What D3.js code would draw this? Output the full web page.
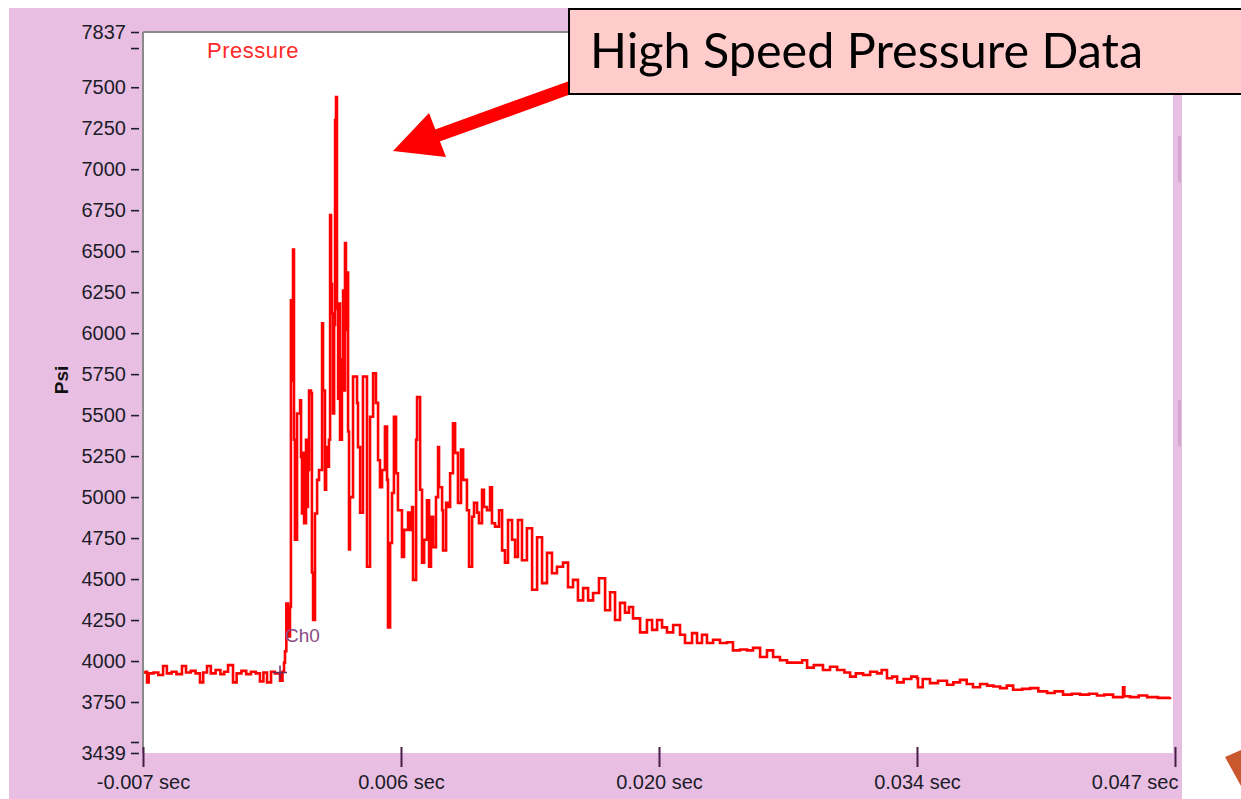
<!DOCTYPE html>
<html>
<head>
<meta charset="utf-8">
<script src="https://cdn.jsdelivr.net/npm/d3@7"></script>
<style>
  body { margin: 0; background: #fff; }
  svg text { font-family: "Liberation Sans", Arial, sans-serif; }
</style>
</head>
<body>
<div id="chart"></div>
<script>
let width = 1241;
let height = 799;
let plot = { left: 143, top: 32, right: 1173, bottom: 753 };

// axis ticks
let yTicks = [3439, 3750, 4000, 4250, 4500, 4750, 5000, 5250, 5500, 5750, 6000, 6250, 6500, 6750, 7000, 7250, 7500, 7837];
let yMinorTicks = [3506, 7739];
let xTicks = [-7, 6.5, 20, 33.5, 47];
let xTickLabels = ["-0.007 sec", "0.006 sec", "0.020 sec", "0.034 sec", "0.047 sec"];

// pressure trace: [time (ms), pressure (psi)]
let trace = [
  [-7.00, 3930], [-6.85, 3935], [-6.79, 3870], [-6.70, 3925], [-6.45, 3930], [-6.20, 3915],
  [-5.95, 3970], [-5.75, 3925], [-5.50, 3935], [-5.25, 3920], [-4.96, 3970], [-4.75, 3930],
  [-4.50, 3940], [-4.25, 3925], [-4.02, 3870], [-3.85, 3930], [-3.65, 3970], [-3.45, 3925],
  [-3.20, 3945], [-2.95, 3920], [-2.75, 3935], [-2.55, 3975], [-2.29, 3870], [-2.10, 3925],
  [-1.85, 3940], [-1.60, 3920], [-1.35, 3935], [-1.10, 3925], [-0.88, 3875], [-0.70, 3930],
  [-0.51, 3870], [-0.30, 3935], [-0.10, 3925], [0.17, 3880], [0.30, 3935],
  [0.38, 3990], [0.43, 4060], [0.50, 4350], [0.59, 4150], [0.69, 4330], [0.74, 6200],
  [0.80, 5710], [0.85, 6510], [0.90, 5350], [0.95, 4740], [1.06, 5510], [1.22, 5590],
  [1.27, 5245], [1.32, 4900], [1.37, 5270], [1.43, 4840], [1.53, 5350], [1.58, 4940],
  [1.63, 5165], [1.69, 5650], [1.79, 5635], [1.84, 4540], [1.90, 4250], [2.00, 4900],
  [2.11, 5105], [2.21, 5165], [2.37, 6060], [2.42, 5650], [2.52, 5045], [2.58, 5305],
  [2.63, 5185], [2.73, 5350], [2.79, 6720], [2.84, 6300], [2.89, 6120], [2.94, 5510],
  [3.00, 6050], [3.05, 7300], [3.10, 7440], [3.15, 6150], [3.21, 5600], [3.26, 6180],
  [3.31, 5350], [3.41, 5840], [3.47, 6260], [3.52, 5650], [3.57, 6550], [3.62, 6020],
  [3.68, 6370], [3.73, 5400], [3.78, 4680], [3.83, 5000], [3.99, 5735], [4.20, 5575],
  [4.25, 5305], [4.36, 4905], [4.51, 5735], [4.72, 4575], [4.88, 5490], [5.04, 5755],
  [5.19, 5575], [5.30, 5225], [5.40, 5060], [5.51, 5165], [5.66, 5430], [5.77, 5105],
  [5.82, 4205], [5.93, 4720], [6.03, 5025], [6.13, 5490], [6.24, 5145], [6.34, 4920],
  [6.55, 4635], [6.66, 4800], [6.87, 4905], [6.97, 4800], [7.08, 4940], [7.13, 4495],
  [7.29, 5350], [7.34, 5610], [7.50, 5045], [7.60, 4600], [7.71, 4740], [7.86, 4980],
  [7.97, 4575], [8.07, 4880], [8.18, 4695], [8.33, 5000], [8.44, 5305], [8.49, 5060],
  [8.65, 4920], [8.70, 4675], [8.86, 4965], [8.96, 4940], [9.07, 5145], [9.22, 5450],
  [9.33, 5270], [9.48, 4965], [9.64, 5290], [9.75, 5105], [9.95, 4920], [10.06, 4575],
  [10.22, 4880], [10.32, 4965], [10.48, 4905], [10.58, 4840], [10.74, 5045], [10.84, 4940],
  [11.00, 4920], [11.16, 5060], [11.26, 4840], [11.42, 4820], [11.63, 4920], [11.79, 4675],
  [11.94, 4600], [12.10, 4860], [12.31, 4740], [12.47, 4635], [12.62, 4860], [12.83, 4615],
  [13.09, 4810], [13.36, 4435], [13.62, 4755], [13.88, 4475], [14.14, 4660], [14.40, 4535],
  [14.66, 4575], [14.98, 4600], [15.24, 4450], [15.50, 4495], [15.76, 4370], [16.03, 4445],
  [16.29, 4370], [16.55, 4415], [16.86, 4505], [17.18, 4310], [17.44, 4420], [17.70, 4250],
  [17.96, 4355], [18.22, 4295], [18.43, 4330], [18.64, 4260], [19.01, 4175], [19.37, 4250],
  [19.64, 4190], [19.90, 4250], [20.16, 4205], [20.42, 4175], [20.74, 4220], [21.10, 4160],
  [21.36, 4110], [21.73, 4170], [21.99, 4110], [22.25, 4160], [22.51, 4110], [22.83, 4130],
  [23.19, 4110], [23.56, 4115], [23.87, 4065], [24.24, 4070], [24.61, 4065], [24.92, 4080],
  [25.29, 4025], [25.65, 4065], [25.97, 4025], [26.33, 4005], [26.70, 3990], [27.01, 3990],
  [27.49, 4005], [27.75, 3960], [28.10, 3975], [28.58, 3945], [28.95, 3965], [29.32, 3945],
  [29.70, 3930], [30.00, 3905], [30.30, 3925], [30.68, 3915], [31.05, 3935], [31.41, 3925],
  [31.65, 3945], [31.93, 3895], [32.20, 3905], [32.46, 3870], [32.80, 3890], [33.20, 3905],
  [33.50, 3895], [33.55, 3840], [33.80, 3890], [34.18, 3865], [34.60, 3880], [35.07, 3855],
  [35.40, 3870], [35.75, 3885], [36.10, 3860], [36.43, 3840], [36.80, 3860], [37.17, 3850],
  [37.50, 3845], [37.85, 3835], [38.20, 3850], [38.53, 3825], [39.00, 3830], [39.42, 3835],
  [39.85, 3815], [40.31, 3805], [40.70, 3815], [41.14, 3795], [41.60, 3800], [42.03, 3795],
  [42.50, 3800], [42.92, 3790], [43.30, 3795], [43.76, 3780], [44.28, 3840], [44.35, 3785],
  [44.65, 3780], [45.10, 3790], [45.54, 3780], [46.10, 3775], [46.74, 3780]
];

let svg = d3.select("#chart")
  .append("svg")
  .attr("width", width)
  .attr("height", height);

// pink frame and white plot area
svg.append("rect")
  .attr("x", 9).attr("y", 8)
  .attr("width", 1182 - 9).attr("height", height - 8)
  .attr("fill", "#e8bfe3");

svg.append("rect")
  .attr("x", plot.left).attr("y", plot.top)
  .attr("width", plot.right - plot.left).attr("height", plot.bottom - plot.top)
  .attr("fill", "#fff");

// little scroll marks on the right strip
[[136, 46], [400, 46]].forEach(([y0, h]) => {
  svg.append("rect")
    .attr("x", 1178).attr("y", y0)
    .attr("width", 3).attr("height", h)
    .attr("fill", "#d2a6ce");
});

let x = d3.scaleLinear()
  .domain([-7, 47])
  .range([143, 1175]);

let y = d3.scaleLinear()
  .domain([3439, 7837])
  .range([plot.bottom, plot.top]);

svg.append("clipPath")
  .attr("id", "clip")
  .append("rect")
  .attr("x", plot.left).attr("y", plot.top)
  .attr("width", plot.right - plot.left).attr("height", plot.bottom - plot.top);

let line = d3.line()
  .curve(d3.curveStepAfter)
  .x(d => x(d[0]))
  .y(d => y(d[1]));

svg.append("path")
  .datum(trace)
  .attr("clip-path", "url(#clip)")
  .attr("fill", "none")
  .attr("stroke", "#ff0000")
  .attr("stroke-width", 2.6)
  .attr("d", line);

// plot border
svg.append("line")
  .attr("x1", plot.left).attr("x2", plot.left)
  .attr("y1", plot.top).attr("y2", plot.bottom)
  .attr("stroke", "#8a8a8a").attr("stroke-width", 2);
svg.append("line")
  .attr("x1", plot.left).attr("x2", plot.right)
  .attr("y1", plot.top).attr("y2", plot.top)
  .attr("stroke", "#8a8a8a").attr("stroke-width", 2);

// y axis
let yAxis = svg.append("g")
  .attr("transform", "translate(139,0)")
  .call(d3.axisLeft(y)
    .tickValues(yTicks)
    .tickFormat(d3.format("d"))
    .tickSize(8)
    .tickPadding(5)
    .tickSizeOuter(0));
yAxis.select(".domain").remove();
yAxis.selectAll("line").attr("stroke", "#1e1e2a").attr("stroke-width", 1.6);
yAxis.selectAll("text")
  .attr("fill", "#1c1c28")
  .style("font-size", "20px");

let yMinor = svg.append("g")
  .attr("transform", "translate(139,0)")
  .call(d3.axisLeft(y).tickValues(yMinorTicks).tickSize(8).tickFormat(""));
yMinor.select(".domain").remove();
yMinor.selectAll("line").attr("stroke", "#1e1e2a").attr("stroke-width", 1.6);

// x axis
let xAxis = svg.append("g")
  .attr("transform", "translate(0,747)")
  .call(d3.axisBottom(x)
    .tickValues(xTicks)
    .tickFormat((d, i) => xTickLabels[i])
    .tickSize(20)
    .tickPadding(8));
xAxis.select(".domain").remove();
xAxis.selectAll("line").attr("stroke", "#4a1d48").attr("stroke-width", 2);
xAxis.selectAll("text")
  .attr("fill", "#1c1c28")
  .style("font-size", "20px");
xAxis.selectAll("text")
  .filter((d, i) => i === xTicks.length - 1)
  .attr("text-anchor", "end")
  .attr("x", 3);

// axis title
svg.append("text")
  .attr("transform", "translate(68,380) rotate(-90)")
  .attr("text-anchor", "middle")
  .style("font-size", "19px")
  .style("font-weight", "bold")
  .attr("fill", "#111")
  .text("Psi");

// plot legend name
svg.append("text")
  .attr("x", 207).attr("y", 58)
  .style("font-size", "22px")
  .style("letter-spacing", "0.5px")
  .attr("fill", "#ff2a2a")
  .text("Pressure");

// cursor
let cx = x(0.17), cy = y(3930);
svg.append("line")
  .attr("x1", cx - 7).attr("x2", cx + 7).attr("y1", cy).attr("y2", cy)
  .attr("stroke", "#6b2a5e").attr("stroke-width", 1.5);
svg.append("line")
  .attr("x1", cx).attr("x2", cx).attr("y1", cy - 7).attr("y2", cy + 7)
  .attr("stroke", "#6b2a5e").attr("stroke-width", 1.5);
svg.append("text")
  .attr("x", cx + 5).attr("y", 642)
  .style("font-size", "19px")
  .attr("fill", "#8a4a84")
  .text("Ch0");

// callout arrow
svg.append("line")
  .attr("x1", 580).attr("y1", 84)
  .attr("x2", 436).attr("y2", 136)
  .attr("stroke", "#ff0000").attr("stroke-width", 13);
svg.append("polygon")
  .attr("points", "393,151 429,113 446,157")
  .attr("fill", "#ff0000");

// callout box
svg.append("rect")
  .attr("x", 569).attr("y", 9)
  .attr("width", 700).attr("height", 85)
  .attr("fill", "#ffcccc")
  .attr("stroke", "#000")
  .attr("stroke-width", 2);
svg.append("text")
  .attr("x", 590).attr("y", 68)
  .attr("textLength", 553)
  .attr("lengthAdjust", "spacingAndGlyphs")
  .style("font-family", "Lato, 'Open Sans', sans-serif")
  .style("font-size", "48px")
  .attr("fill", "#000")
  .text("High Speed Pressure Data");

// edge of another arrow at bottom right
svg.append("polygon")
  .attr("points", "1225,757 1241,750 1241,786")
  .attr("fill", "#c9582f");
</script>
</body>
</html>
